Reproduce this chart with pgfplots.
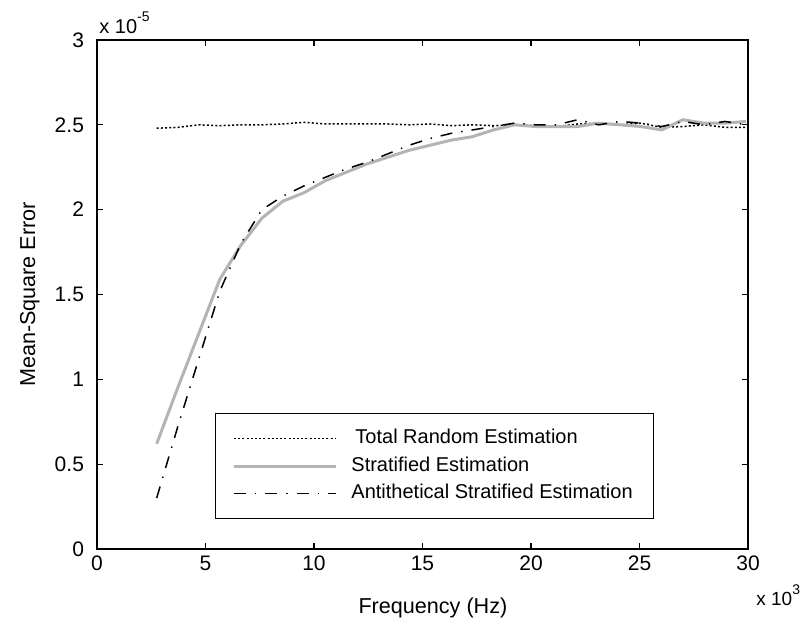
\documentclass[border=0pt]{standalone}
\usepackage{fontspec}
\setmainfont{Liberation Sans}
\usepackage{pgfplots}
\pgfplotsset{compat=1.18}
\definecolor{stratgray}{RGB}{180,180,180}

\pgfplotstableread{
x     total  strat  anti
2.75  2.480  0.62   0.30
3.72  2.485  0.95   0.72
4.69  2.500  1.27   1.12
5.66  2.495  1.59   1.52
6.63  2.500  1.79   1.80
7.60  2.500  1.95   2.00
8.57  2.505  2.05   2.08
9.54  2.515  2.10   2.14
10.51 2.505  2.17   2.19
11.48 2.505  2.22   2.24
12.45 2.505  2.27   2.28
13.42 2.505  2.31   2.33
14.39 2.500  2.35   2.38
15.36 2.505  2.38   2.42
16.33 2.495  2.41   2.45
17.30 2.500  2.43   2.47
18.27 2.495  2.47   2.49
19.24 2.500  2.50   2.51
20.21 2.495  2.49   2.50
21.18 2.490  2.49   2.50
22.15 2.505  2.49   2.53
23.12 2.510  2.51   2.50
24.09 2.500  2.50   2.52
25.06 2.510  2.49   2.51
26.03 2.485  2.47   2.49
27.00 2.490  2.53   2.52
27.97 2.500  2.51   2.50
28.94 2.485  2.51   2.52
29.91 2.485  2.52   2.50
}\msedata

\begin{document}
\begin{tikzpicture}
\useasboundingbox (-48.5pt,-38.5pt) rectangle (352.5pt,274.5pt);
\begin{axis}[
    scale only axis,
    width=325.5pt,
    height=254.5pt,
    clip=false,
    xmin=0, xmax=30,
    ymin=0, ymax=3,
    xtick={0,5,...,30},
    ytick={0,0.5,...,3},
    minor tick num=0,
    tick align=inside,
    tick pos=both,
    major tick length=3pt,
    scaled ticks=false,
    axis line style={line width=0.8pt},
    every tick/.style={black, line width=0.6pt},
    /pgf/number format/assume math mode=true,
    ticklabel style={font=\fontsize{10.5}{12}\selectfont},
    yticklabel style={xshift=-3pt},
    xlabel={Frequency (Hz)},
    ylabel={Mean-Square Error},
    label style={font=\fontsize{10.8}{12}\selectfont},
    xlabel style={at={(axis description cs:0.516,-0.116)}, anchor=center},
    ylabel style={at={(axis description cs:-0.103,0.5)}, anchor=center},
    legend style={
        at={(axis description cs:0.181,0.267)}, anchor=north west,
        draw=black, line width=0.6pt,
        font=\fontsize{10}{12}\selectfont,
        inner xsep=8.5pt, inner ysep=5.5pt,
        nodes={text height=7pt, text depth=2pt, inner ysep=2.4pt},
        /tikz/every odd column/.append style={column sep=5pt},
    },
    legend cell align=left,
    legend image code/.code={\draw[#1] (0pt,0pt) -- (51pt,0pt);},
]
\addplot[black, line width=0.75pt, dash pattern=on 1pt off 1.1pt]
    table[x=x, y=total] {\msedata};
\addplot[stratgray, line width=1.5pt]
    table[x=x, y=strat] {\msedata};
\addplot[black, line width=0.75pt, dash pattern=on 6pt off 4.5pt on 0.7pt off 4.5pt]
    table[x=x, y=anti] {\msedata};
\legend{\hspace{2pt}Total Random Estimation, Stratified Estimation, Antithetical Stratified Estimation}

\node[anchor=south west, inner sep=0pt, font=\fontsize{10}{12}\selectfont]
    at ([xshift=1pt, yshift=3pt]rel axis cs:0,1) {x 10\raisebox{1.1ex}{\fontsize{7}{7}\selectfont -5}};
\node[anchor=west, inner sep=0pt, font=\fontsize{9.5}{12}\selectfont]
    at ([xshift=4pt, yshift=-23pt]rel axis cs:1,0) {x 10\raisebox{1.1ex}{\fontsize{7}{7}\selectfont 3}};
\end{axis}
\end{tikzpicture}
\end{document}
